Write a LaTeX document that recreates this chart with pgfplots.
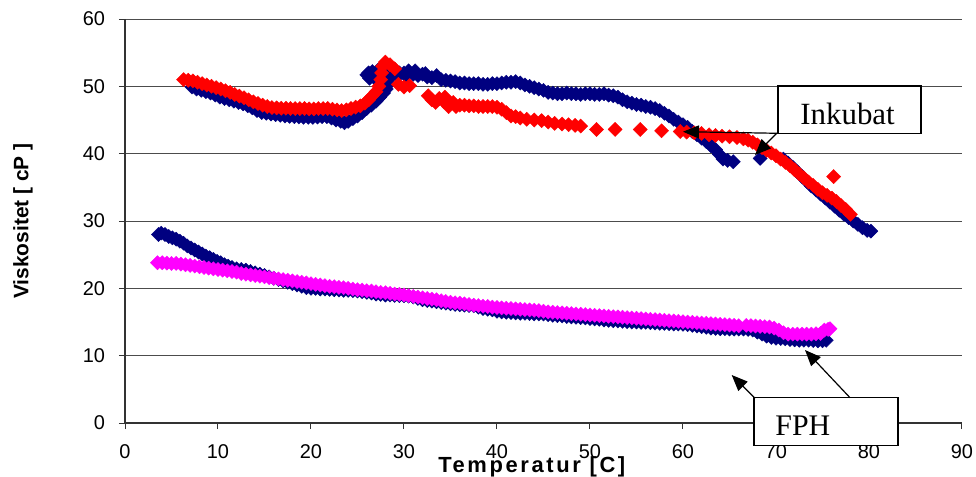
\documentclass[border=0pt]{standalone}
\usepackage{fontspec}
\setmainfont{Liberation Sans}
\newfontfamily\timesf{Liberation Serif}
\newfontfamily\spacedsans[LetterSpace=12]{Liberation Sans}
\usepackage{pgfplots}
\pgfplotsset{compat=1.18}
\usetikzlibrary{arrows.meta}
\definecolor{navyb}{RGB}{0,0,128}
\definecolor{redd}{RGB}{255,0,0}
\definecolor{mag}{RGB}{255,0,255}
\begin{document}
\begin{tikzpicture}
\begin{axis}[
  at={(0,0)}, anchor=south west,
  scale only axis, width=418.5bp, height=202bp,
  xmin=0, xmax=90, ymin=0, ymax=60,
  xtick={0,10,...,90}, ytick={0,10,...,60},
  axis x line=bottom, axis y line=left,
  axis line style={-, black!80, line width=0.6bp},
  ymajorgrids, grid style={black!70, line width=0.5bp},
  tick style={black!80, line width=0.5bp},
  tick align=outside,
  major tick length=3bp,
  minor tick num=0,
  tick label style={font=\fontsize{10}{12}\selectfont},
  xticklabel style={yshift=-4.5bp},
  yticklabel style={xshift=-3.5bp},
  /pgf/number format/assume math mode=true,
  xlabel={\spacedsans\bfseries Temperatur [C]},
  ylabel={\bfseries Viskositet [ cP ]},
  xlabel style={at={(axis description cs:0.486,-0.109)}, anchor=center, font=\fontsize{11}{13}\selectfont},
  ylabel style={at={(axis description cs:-0.122,0.5)}, anchor=center, font=\fontsize{10.5}{12}\selectfont},
  clip=false,
  every axis plot/.append style={only marks, mark=square*, mark size=2.5bp, mark options={rotate=45, solid, line width=0.2bp}},
]
% Inkubat, navy
\addplot[navyb] coordinates {
(7.2,49.9)(7.7,49.6)(8.2,49.4)(8.7,49.2)(9.2,49.0)(9.7,48.7)(10.2,48.4)(10.7,48.2)(11.2,48.0)(11.7,47.8)
(12.2,47.6)(12.7,47.4)(13.2,47.1)(13.7,46.8)(14.2,46.4)(14.7,46.1)(15.2,46.0)(15.7,45.9)(16.2,45.8)(16.7,45.7)
(17.2,45.6)(17.7,45.55)(18.2,45.5)(18.7,45.45)(19.2,45.4)(19.7,45.4)(20.2,45.4)(20.7,45.45)(21.2,45.5)(21.7,45.5)
(22.2,45.3)(22.7,45.0)(23.2,44.8)(23.6,44.6)(24.0,44.8)(24.5,45.2)(25.0,45.6)(25.5,46.1)(26.0,46.7)(26.5,47.2)
(27.0,47.8)(27.4,48.4)(27.8,49.0)(28.1,49.6)(28.3,50.3)
(26.0,51.7)(26.3,51.2)(26.6,52.2)(27.0,51.0)(27.3,51.9)(27.6,50.5)(28.0,51.5)(28.5,52.3)(29.0,52.5)(29.5,52.0)
(26.2,52.0)(26.8,51.5)(27.2,52.4)(27.8,52.0)(28.2,50.8)(28.8,51.8)(29.3,51.5)(30.2,51.6)(31.2,52.3)(32.3,51.9)
(30.0,52.0)(30.5,52.3)(31.0,51.8)(31.5,51.6)(32.0,51.8)(32.5,51.4)(33.0,51.3)(33.5,51.6)(34.0,51.0)(34.5,50.9)
(35.0,50.8)(35.5,50.7)(36.0,50.5)(36.5,50.5)(37.0,50.4)(37.5,50.4)(38.0,50.4)(38.5,50.3)(39.0,50.3)(39.5,50.4)
(40.0,50.4)(40.5,50.5)(41.0,50.6)(41.5,50.6)(42.0,50.7)(42.5,50.5)(43.0,50.2)(43.5,50.0)(44.0,49.8)(44.5,49.6)
(45.0,49.4)(45.5,49.1)(46.0,49.0)(46.5,48.9)(47.0,48.9)(47.5,49.0)(48.0,48.9)(48.5,48.9)(49.0,48.8)(49.5,48.9)
(50.0,48.9)(50.5,48.8)(51.0,48.8)(51.5,48.9)(52.0,48.7)(52.5,48.6)(53.0,48.4)(53.5,48.0)(54.0,47.7)(54.5,47.5)
(55.0,47.3)(55.5,47.2)(56.0,47.0)(56.5,46.9)(57.0,46.7)(57.5,46.4)(58.0,46.0)(58.5,45.6)(59.0,45.1)(59.5,44.7)
(60.0,44.3)(60.5,43.9)(61.0,43.3)(61.5,42.8)(62.0,42.3)(62.5,41.8)(63.0,41.2)(63.5,40.6)(63.9,39.9)(64.3,39.2)
(64.8,39.0)(65.4,38.8)(68.3,39.3)
(70.8,39.2)(71.3,38.6)(71.8,38.0)(72.3,37.3)(72.8,36.6)(73.3,35.9)(73.8,35.2)(74.3,34.6)(74.8,34.0)(75.3,33.4)
(75.8,32.8)(76.3,32.2)(76.8,31.6)(77.3,31.0)(77.8,30.5)(78.3,30.0)(78.8,29.5)(79.3,29.0)(79.8,28.6)(80.2,28.5)
};
% Inkubat, red
\addplot[redd] coordinates {
(6.3,51.0)(6.8,50.9)(7.3,50.8)(7.8,50.6)(8.3,50.4)(8.8,50.2)(9.3,50.0)(9.8,49.8)(10.3,49.6)(10.8,49.35)
(11.3,49.1)(11.8,48.8)(12.3,48.55)(12.8,48.3)(13.3,48.0)(13.8,47.7)(14.3,47.45)(14.8,47.2)(15.3,47.0)(15.8,46.85)
(16.3,46.8)(16.8,46.75)(17.3,46.75)(17.8,46.7)(18.3,46.7)(18.8,46.7)(19.3,46.7)(19.8,46.65)(20.3,46.65)(20.8,46.7)
(21.3,46.7)(21.8,46.7)(22.3,46.6)(22.8,46.5)(23.3,46.4)(23.8,46.5)(24.3,46.7)(24.8,46.9)(25.3,47.1)(25.8,47.5)
(26.2,48.0)(26.6,48.6)(27.0,49.2)(27.3,50.0)(27.5,51.0)(27.6,52.0)(27.7,53.0)(28.0,53.6)(28.5,53.2)(29.0,52.6)
(29.4,50.3)(30.0,49.9)(30.6,50.1)
(32.6,48.6)(33.0,48.0)(33.4,47.6)(33.8,48.2)(34.3,47.7)(34.8,47.0)(34.4,48.4)(35.3,47.6)(35.6,47.0)
(36.0,47.2)(36.5,47.2)(37.0,47.1)(37.5,47.1)(38.0,47.0)(38.5,47.0)(39.0,47.0)(39.5,47.0)(40.0,46.9)(40.5,46.6)
(41.0,46.1)(41.5,45.6)(42.0,45.5)(42.5,45.3)(43.2,45.1)(44.0,45.0)(44.8,44.9)(45.5,44.7)(46.2,44.5)(47.0,44.4)
(47.7,44.3)(48.4,44.2)(49.0,44.1)
(50.7,43.6)(52.7,43.6)(55.4,43.6)(57.7,43.4)
(59.7,43.3)(60.4,43.2)(61.2,43.1)(62.0,43.0)(62.8,42.8)(63.5,42.7)(64.2,42.6)(65.0,42.5)(65.8,42.4)(66.5,42.2)
(67.0,42.0)(67.5,41.7)(68.0,41.3)(68.5,40.9)(69.0,40.5)(69.5,40.1)(70.0,39.7)(70.5,39.2)(71.0,38.7)(71.5,38.2)
(72.0,37.6)(72.5,37.0)(73.0,36.4)(73.5,35.8)(74.0,35.3)(74.5,34.7)(75.0,34.2)(75.5,33.8)(76.0,33.4)(76.5,32.9)
(77.0,32.3)(77.5,31.7)(78.0,31.0)(76.2,36.6)
};
% FPH, navy
\addplot[navyb] coordinates {
(3.6,28.0)(3.9,28.2)(4.3,28.0)(4.7,27.7)(5.1,27.5)(5.5,27.3)(5.9,27.0)(6.3,26.7)(6.7,26.3)(7.1,26.0)
(7.5,25.7)(7.9,25.4)(8.3,25.1)(8.7,24.8)(9.1,24.55)(9.5,24.3)(9.9,24.0)(10.3,23.8)(10.7,23.5)(11.1,23.3)
(11.5,23.1)(12,22.9)(12.5,22.8)(13,22.7)(13.5,22.5)(14,22.3)(14.5,22.1)(15,21.9)(15.5,21.7)(16,21.5)
(16.5,21.3)(17,21.1)(17.5,20.9)(18,20.7)(18.5,20.5)(19,20.3)(19.5,20.1)(20,20.0)(20.5,20.0)(21,19.9)
(21.5,19.9)(22,19.85)(22.5,19.8)(23,19.75)(23.5,19.7)(24,19.7)(24.5,19.65)(25,19.6)(25.5,19.5)(26,19.4)
(26.5,19.3)(27,19.15)(27.5,19.1)(28,19.0)(28.5,19.0)(29,18.95)(29.5,18.9)(30,18.9)(30.5,18.85)(31,18.7)
(31.5,18.5)(32,18.3)(32.5,18.2)(33,18.1)(33.5,18.0)(34,17.9)(34.5,17.8)(35,17.7)(35.5,17.6)(36,17.55)
(36.5,17.5)(37,17.45)(37.5,17.4)(38,17.2)(38.5,17.0)(39,16.9)(39.5,16.8)(40,16.6)(40.5,16.5)(41,16.45)
(41.5,16.4)(42,16.35)(42.5,16.3)(43,16.3)(43.5,16.25)(44,16.2)(44.5,16.2)(45,16.2)(45.5,16.1)(46,16.0)
(46.5,15.95)(47,15.9)(47.5,15.8)(48,15.75)(48.5,15.7)(49,15.65)(49.5,15.6)(50,15.5)(50.5,15.45)(51,15.4)
(51.5,15.3)(52,15.25)(52.5,15.2)(53,15.15)(53.5,15.1)(54,15.05)(54.5,15.0)(55,15.0)(55.5,14.95)(56,14.95)
(56.5,14.9)(57,14.85)(57.5,14.8)(58,14.8)(58.5,14.75)(59,14.7)(59.5,14.7)(60,14.65)(60.5,14.6)(61,14.5)
(61.5,14.4)(62,14.3)(62.5,14.2)(63,14.1)(63.5,14.05)(64,14.0)(64.5,14.0)(65,13.95)(65.5,13.95)(66,13.95)
(66.5,13.95)(67,13.9)(67.5,13.8)(68,13.5)(68.5,13.2)(69,12.9)(69.5,12.7)(70,12.6)(70.5,12.55)(71,12.5)
(71.5,12.4)(72,12.35)(72.5,12.3)(73,12.3)(73.5,12.3)(74,12.25)(74.5,12.2)(75,12.2)(75.4,12.3)
};
% FPH, magenta
\addplot[mag] coordinates {
(3.5,23.8)(4,23.8)(4.5,23.75)(5,23.7)(5.5,23.7)(6,23.6)(6.5,23.5)(7,23.4)(7.5,23.3)(8,23.2)
(8.5,23.1)(9,23.0)(9.5,22.9)(10,22.8)(10.5,22.7)(11,22.6)(11.5,22.5)(12,22.4)(12.5,22.2)(13,22.1)
(13.5,22.0)(14,21.9)(14.5,21.8)(15,21.7)(15.5,21.6)(16,21.5)(16.5,21.4)(17,21.3)(17.5,21.2)(18,21.1)
(18.5,21.0)(19,20.9)(19.5,20.8)(20,20.7)(20.5,20.6)(21,20.5)(21.5,20.4)(22,20.3)(22.5,20.25)(23,20.15)
(23.5,20.1)(24,20.0)(24.5,19.9)(25,19.8)(25.5,19.75)(26,19.65)(26.5,19.6)(27,19.5)(27.5,19.4)(28,19.35)
(28.5,19.25)(29,19.15)(29.5,19.1)(30,19.0)(30.5,18.9)(31,18.8)(31.5,18.7)(32,18.6)(32.5,18.5)(33,18.4)
(33.5,18.3)(34,18.15)(34.5,18.05)(35,17.95)(35.5,17.85)(36,17.8)(36.5,17.7)(37,17.6)(37.5,17.5)(38,17.45)
(38.5,17.35)(39,17.3)(39.5,17.2)(40,17.15)(40.5,17.1)(41,17.05)(41.5,17.0)(42,16.95)(42.5,16.9)(43,16.85)
(43.5,16.8)(44,16.75)(44.5,16.7)(45,16.6)(45.5,16.5)(46,16.45)(46.5,16.4)(47,16.35)(47.5,16.3)(48,16.25)
(48.5,16.2)(49,16.15)(49.5,16.1)(50,16.05)(50.5,16.0)(51,15.95)(51.5,15.9)(52,15.85)(52.5,15.8)(53,15.75)
(53.5,15.7)(54,15.65)(54.5,15.6)(55,15.55)(55.5,15.5)(56,15.45)(56.5,15.4)(57,15.35)(57.5,15.3)(58,15.25)
(58.5,15.2)(59,15.15)(59.5,15.1)(60,15.05)(60.5,15.0)(61,14.95)(61.5,14.9)(62,14.85)(62.5,14.8)(63,14.75)
(63.5,14.7)(64,14.65)(64.5,14.6)(65,14.55)(65.5,14.5)(66,14.45)(66.8,14.5)(67.3,14.45)(67.8,14.4)(68.3,14.35)
(68.8,14.3)(69.3,14.25)(69.8,14.1)(70.3,13.8)(70.8,13.4)(71.3,13.2)(71.8,13.2)(72.3,13.2)(72.8,13.2)(73.3,13.2)
(73.8,13.2)(74.3,13.25)(74.8,13.3)(75.2,13.8)(75.6,13.9)(75.8,14.0)
};
\end{axis}
% annotations (callouts)
\draw[black, line width=0.7bp, fill=white] (326.5bp,144.85bp) rectangle (398bp,168.5bp);
\node[anchor=base west, inner sep=0pt, font=\timesf\fontsize{15.5}{18}\selectfont] at (337.5bp,149bp) {Inkubat};
\draw[black, line width=0.6bp, -{Triangle[length=8bp, width=6.5bp]}] (326.5bp,144.85bp) -- (279bp,145.65bp);
\draw[black, line width=0.6bp, -{Triangle[length=8bp, width=6.5bp]}] (325.85bp,144.85bp) -- (315bp,134bp);
\draw[black, line width=0.7bp, fill=white] (314.5bp,-11.25bp) rectangle (386.5bp,12.65bp);
\node[anchor=base west, inner sep=0pt, font=\timesf\fontsize{15}{18}\selectfont] at (325bp,-6.35bp) {FPH};
\draw[black, line width=0.6bp, -{Triangle[length=8bp, width=6.5bp]}] (315bp,12.35bp) -- (303.35bp,24bp);
\draw[black, line width=0.6bp, -{Triangle[length=8bp, width=6.5bp]}] (362.5bp,12.65bp) -- (340bp,36.5bp);
\pgfresetboundingbox
\path[use as bounding box] (-62.5bp,-27bp) rectangle (425.5bp,211.5bp);
\end{tikzpicture}
\end{document}
